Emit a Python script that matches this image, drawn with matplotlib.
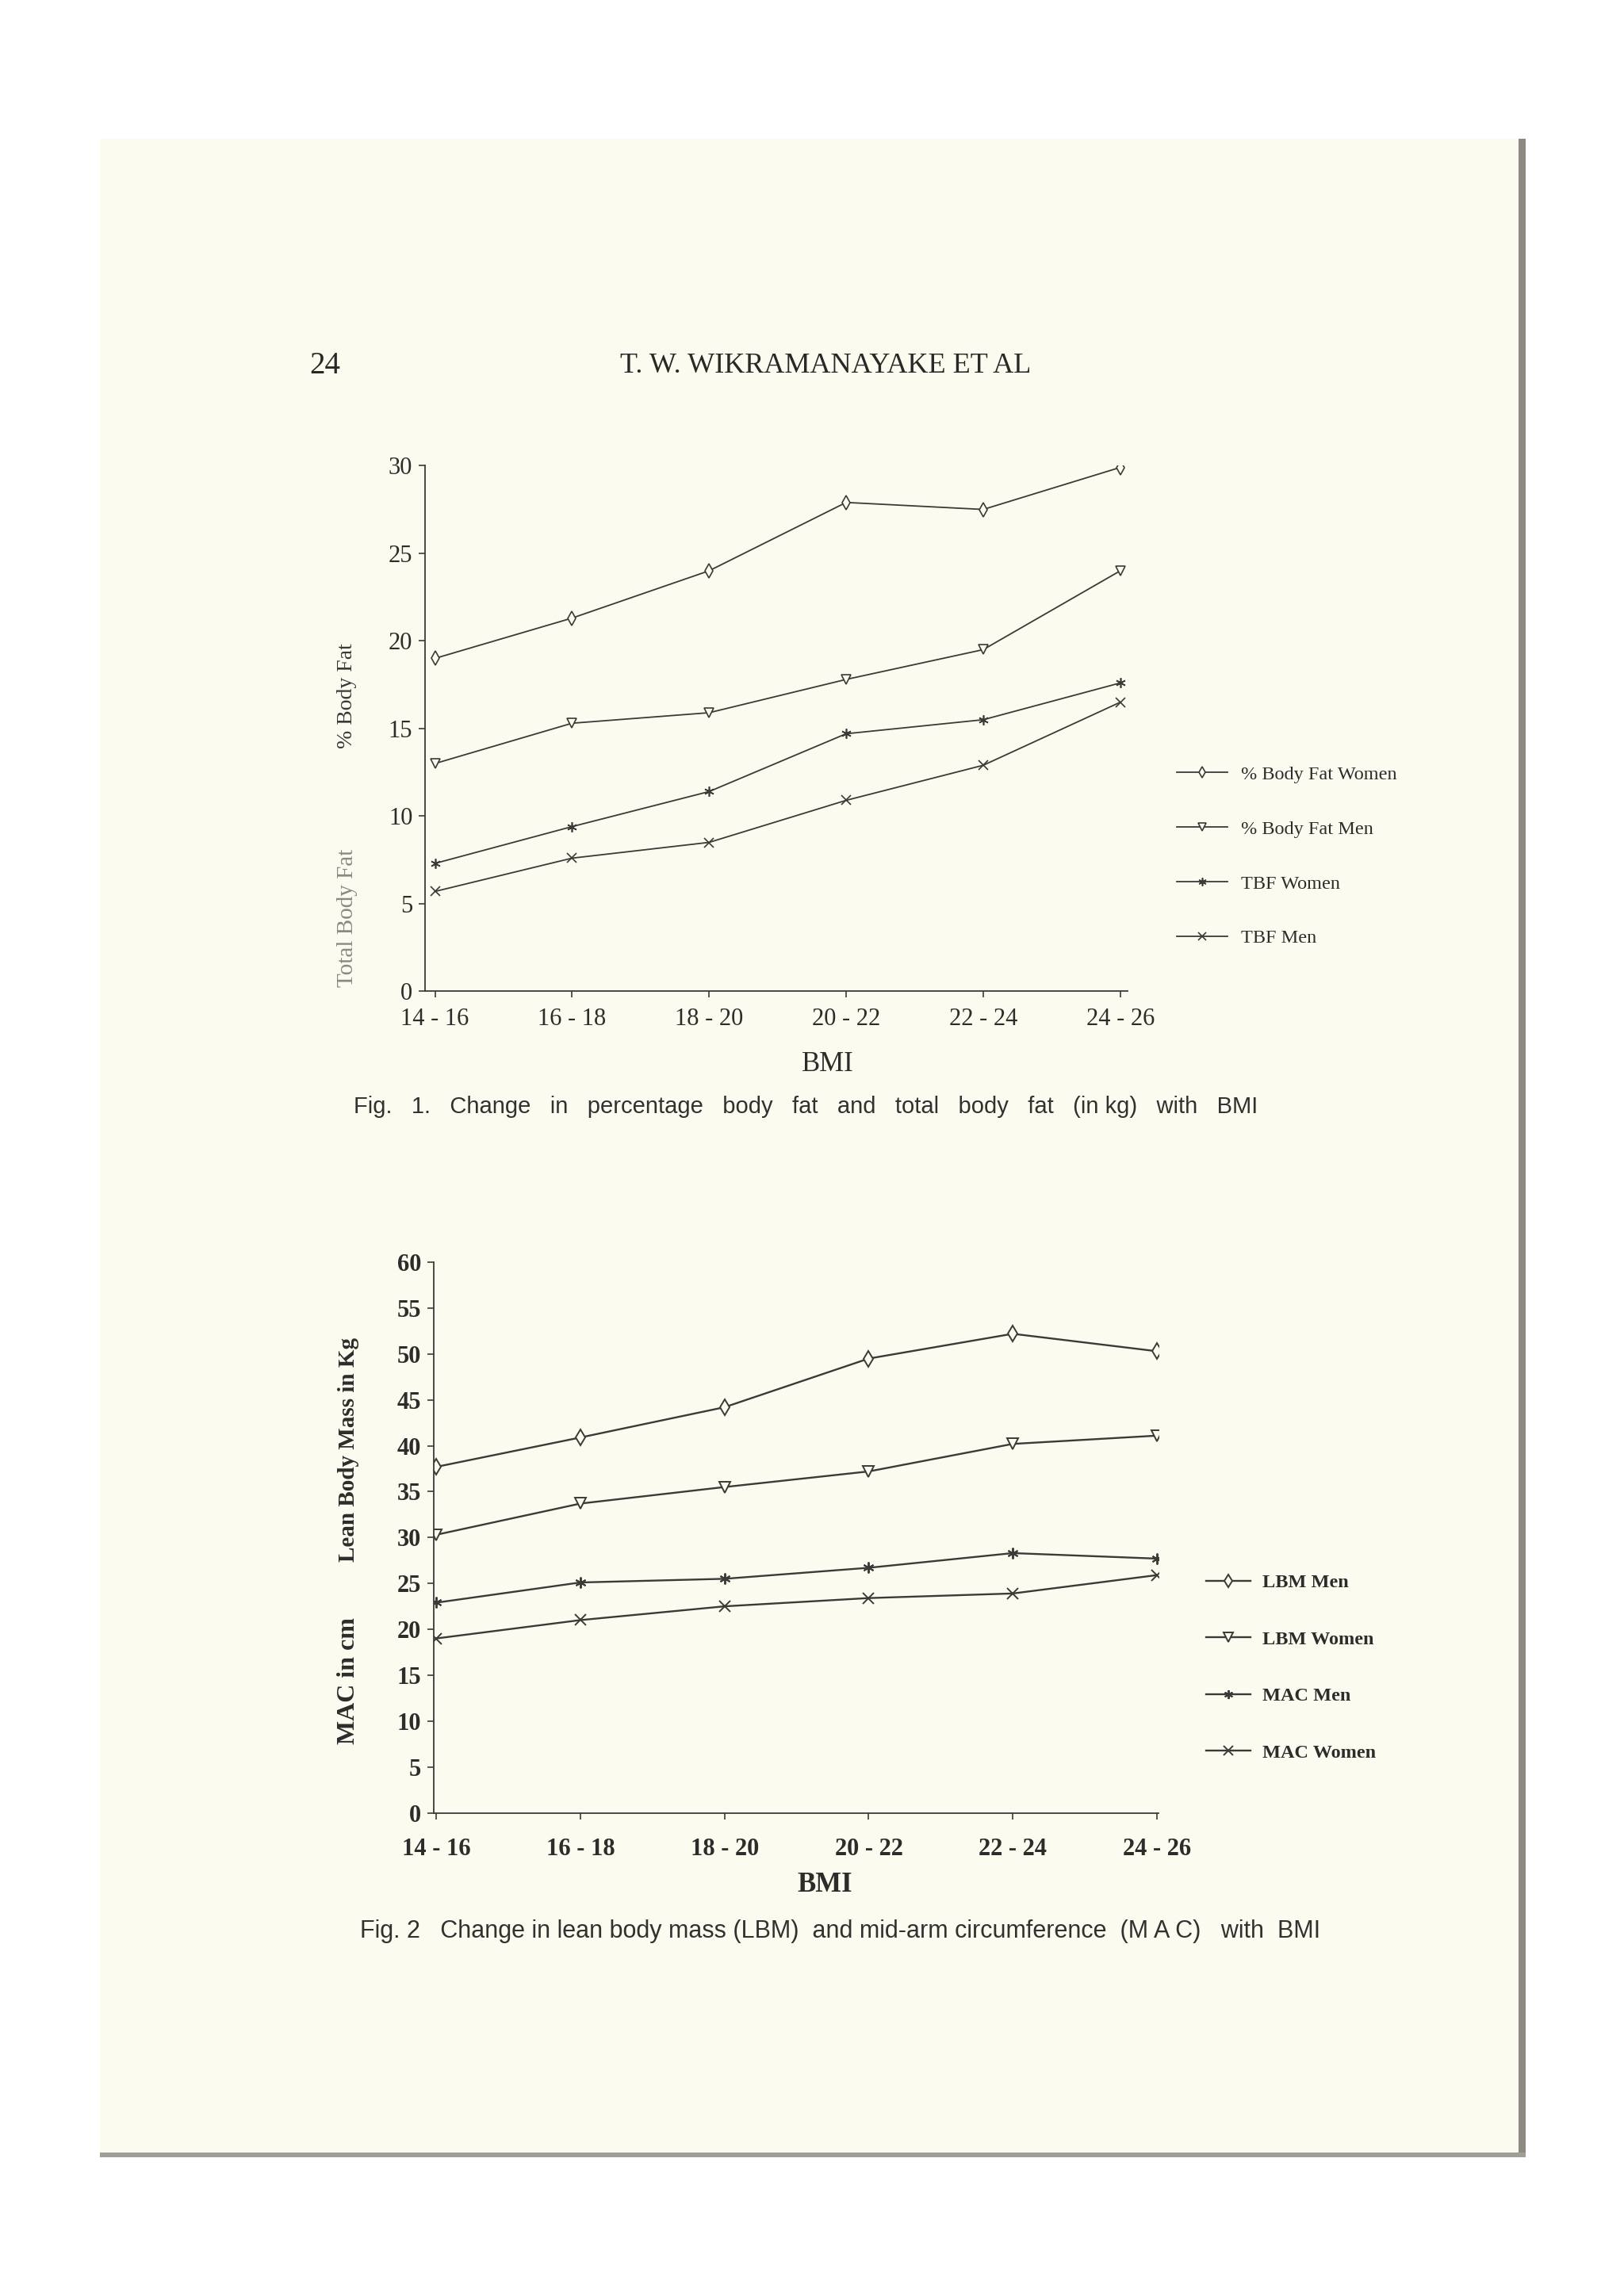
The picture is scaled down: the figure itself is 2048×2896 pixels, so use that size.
import matplotlib
matplotlib.use("Agg")
import matplotlib.pyplot as plt
from matplotlib.patches import Rectangle

# data
bmi_groups = ["14 - 16", "16 - 18", "18 - 20", "20 - 22", "22 - 24", "24 - 26"]

pct_fat_women = [19.0, 21.3, 24.0, 27.9, 27.5, 29.9]
pct_fat_men = [13.0, 15.3, 15.9, 17.8, 19.5, 24.0]
tbf_women = [7.3, 9.4, 11.4, 14.7, 15.5, 17.6]
tbf_men = [5.7, 7.6, 8.5, 10.9, 12.9, 16.5]

lbm_men = [37.7, 40.9, 44.2, 49.5, 52.2, 50.3]
lbm_women = [30.3, 33.7, 35.5, 37.2, 40.2, 41.1]
mac_men = [22.9, 25.1, 25.5, 26.7, 28.3, 27.7]
mac_women = [19.0, 21.0, 22.5, 23.4, 23.9, 25.9]

W, H = 1109.0, 1568.0
INK = "#3c3a36"
PAGE = "#fcfbf0"
SERIF = "Liberation Serif"
SANS = "Liberation Sans"


def rect(x0, y0, x1, y1):
    return [x0 / W, 1 - y1 / H, (x1 - x0) / W, (y1 - y0) / H]


def fx(x):
    return x / W


def fy(y):
    return 1 - y / H


fig = plt.figure(figsize=(20.48, 28.96), dpi=100)
fig.patch.set_facecolor("white")

# scanned page background and edges
fig.add_artist(Rectangle((fx(68), fy(1472)), (1042 - 68) / W, (1472 - 95) / H,
                         transform=fig.transFigure, facecolor=PAGE, edgecolor="none", zorder=0))
fig.add_artist(Rectangle((fx(1037), fy(1472)), 5 / W, (1472 - 95) / H,
                         transform=fig.transFigure, facecolor="#8e8983", edgecolor="none", zorder=0))
fig.add_artist(Rectangle((fx(68), fy(1473)), (1042 - 68) / W, 3 / H,
                         transform=fig.transFigure, facecolor="#a19d97", edgecolor="none", zorder=0))

# header
fig.text(fx(222), fy(250), "24", family=SERIF, fontsize=28, color="#2a2826", ha="center", va="center")
fig.text(fx(564), fy(250), "T. W. WIKRAMANAYAKE ET AL", family=SERIF, fontsize=26,
         color="#2a2826", ha="center", va="center")

x = list(range(len(bmi_groups)))
asterisk = (6, 2, 0)


def style_axes(ax, yticks, bold=False, xpad=9):
    ax.set_facecolor("none")
    for s in ["top", "right"]:
        ax.spines[s].set_visible(False)
    for s in ["left", "bottom"]:
        ax.spines[s].set_color(INK)
        ax.spines[s].set_linewidth(1.3)
    ax.set_xticks(x)
    ax.set_xticklabels(bmi_groups)
    ax.set_yticks(yticks)
    ax.tick_params(axis="both", colors=INK, width=1.2, length=6, direction="out")
    ax.tick_params(axis="x", pad=xpad)
    ax.tick_params(axis="y", pad=5)
    for lab in ax.get_xticklabels() + ax.get_yticklabels():
        lab.set_family(SERIF)
        lab.set_fontsize(22)
        lab.set_color("#2e2c2a")
        if bold:
            lab.set_fontweight("bold")


# ---- Fig 1 ----
ax1 = fig.add_axes(rect(290, 318, 770, 677))
lkw = dict(color=INK, lw=1.3, markersize=9, markeredgewidth=1.2)
l1, = ax1.plot(x, pct_fat_women, marker="d", mfc=PAGE, mec=INK, **lkw)
l2, = ax1.plot(x, pct_fat_men, marker="v", mfc=PAGE, mec=INK, **lkw)
l3, = ax1.plot(x, tbf_women, marker=asterisk, mec=INK, **lkw)
l4, = ax1.plot(x, tbf_men, marker="x", mec=INK, **lkw)
ax1.set_xlim(-0.075, 5.053)
ax1.set_ylim(0, 30)
style_axes(ax1, range(0, 31, 5))

fig.text(fx(565), fy(727), "BMI", family=SERIF, fontsize=25, color="#2e2c2a", ha="center", va="center")
fig.text(fx(237), fy(475), "% Body Fat", family=SERIF, fontsize=20, color="#3a3836",
         rotation=90, ha="center", va="center")
fig.text(fx(237), fy(627), "Total Body Fat", family=SERIF, fontsize=21, color="#8a8884",
         rotation=90, ha="center", va="center")

leg1 = fig.legend([l1, l2, l3, l4], ["% Body Fat Women", "% Body Fat Men", "TBF Women", "TBF Men"],
                  loc="upper left", bbox_to_anchor=(fx(792), fy(511)), frameon=False,
                  prop={"family": SERIF, "size": 17.5}, handlelength=2.6, handletextpad=0.7,
                  labelspacing=1.93, markerscale=0.8)
for t in leg1.get_texts():
    t.set_color("#2e2c2a")

fig.text(fx(550), fy(756),
         "Fig.   1.   Change   in   percentage   body   fat   and   total   body   fat   (in kg)   with   BMI",
         family=SANS, fontsize=21, color="#333130", ha="center", va="center")

# ---- Fig 2 ----
ax2 = fig.add_axes(rect(296, 862, 791, 1238))
lkw2 = dict(color=INK, lw=1.7, markersize=10, markeredgewidth=1.4)
m1, = ax2.plot(x, lbm_men, marker="d", mfc=PAGE, mec=INK, **lkw2)
m2, = ax2.plot(x, lbm_women, marker="v", mfc=PAGE, mec=INK, **lkw2)
m3, = ax2.plot(x, mac_men, marker=asterisk, mec=INK, **lkw2)
m4, = ax2.plot(x, mac_women, marker="x", mec=INK, **lkw2)
ax2.set_xlim(-0.02, 5.01)
ax2.set_ylim(0, 60)
style_axes(ax2, range(0, 61, 5), bold=True, xpad=17)

fig.text(fx(563), fy(1287), "BMI", family=SERIF, fontsize=25, fontweight="bold", color="#2e2c2a",
         ha="center", va="center")
fig.text(fx(238), fy(990), "Lean Body Mass in Kg", family=SERIF, fontsize=21, fontweight="bold",
         color="#2e2c2a", rotation=90, ha="center", va="center")
fig.text(fx(238), fy(1148), "MAC in cm", family=SERIF, fontsize=23, fontweight="bold",
         color="#2e2c2a", rotation=90, ha="center", va="center")

leg2 = fig.legend([m1, m2, m3, m4], ["LBM Men", "LBM Women", "MAC Men", "MAC Women"],
                  loc="upper left", bbox_to_anchor=(fx(812), fy(1063)), frameon=False,
                  prop={"family": SERIF, "size": 17.5, "weight": "bold"}, handlelength=2.3,
                  handletextpad=0.6, labelspacing=2.04, markerscale=0.8)
for t in leg2.get_texts():
    t.set_color("#2e2c2a")

fig.text(fx(574), fy(1319),
         "Fig. 2   Change in lean body mass (LBM)  and mid-arm circumference  (M A C)   with  BMI",
         family=SANS, fontsize=22, color="#333130", ha="center", va="center")

fig.savefig("out.png", dpi=100, facecolor=fig.get_facecolor())
